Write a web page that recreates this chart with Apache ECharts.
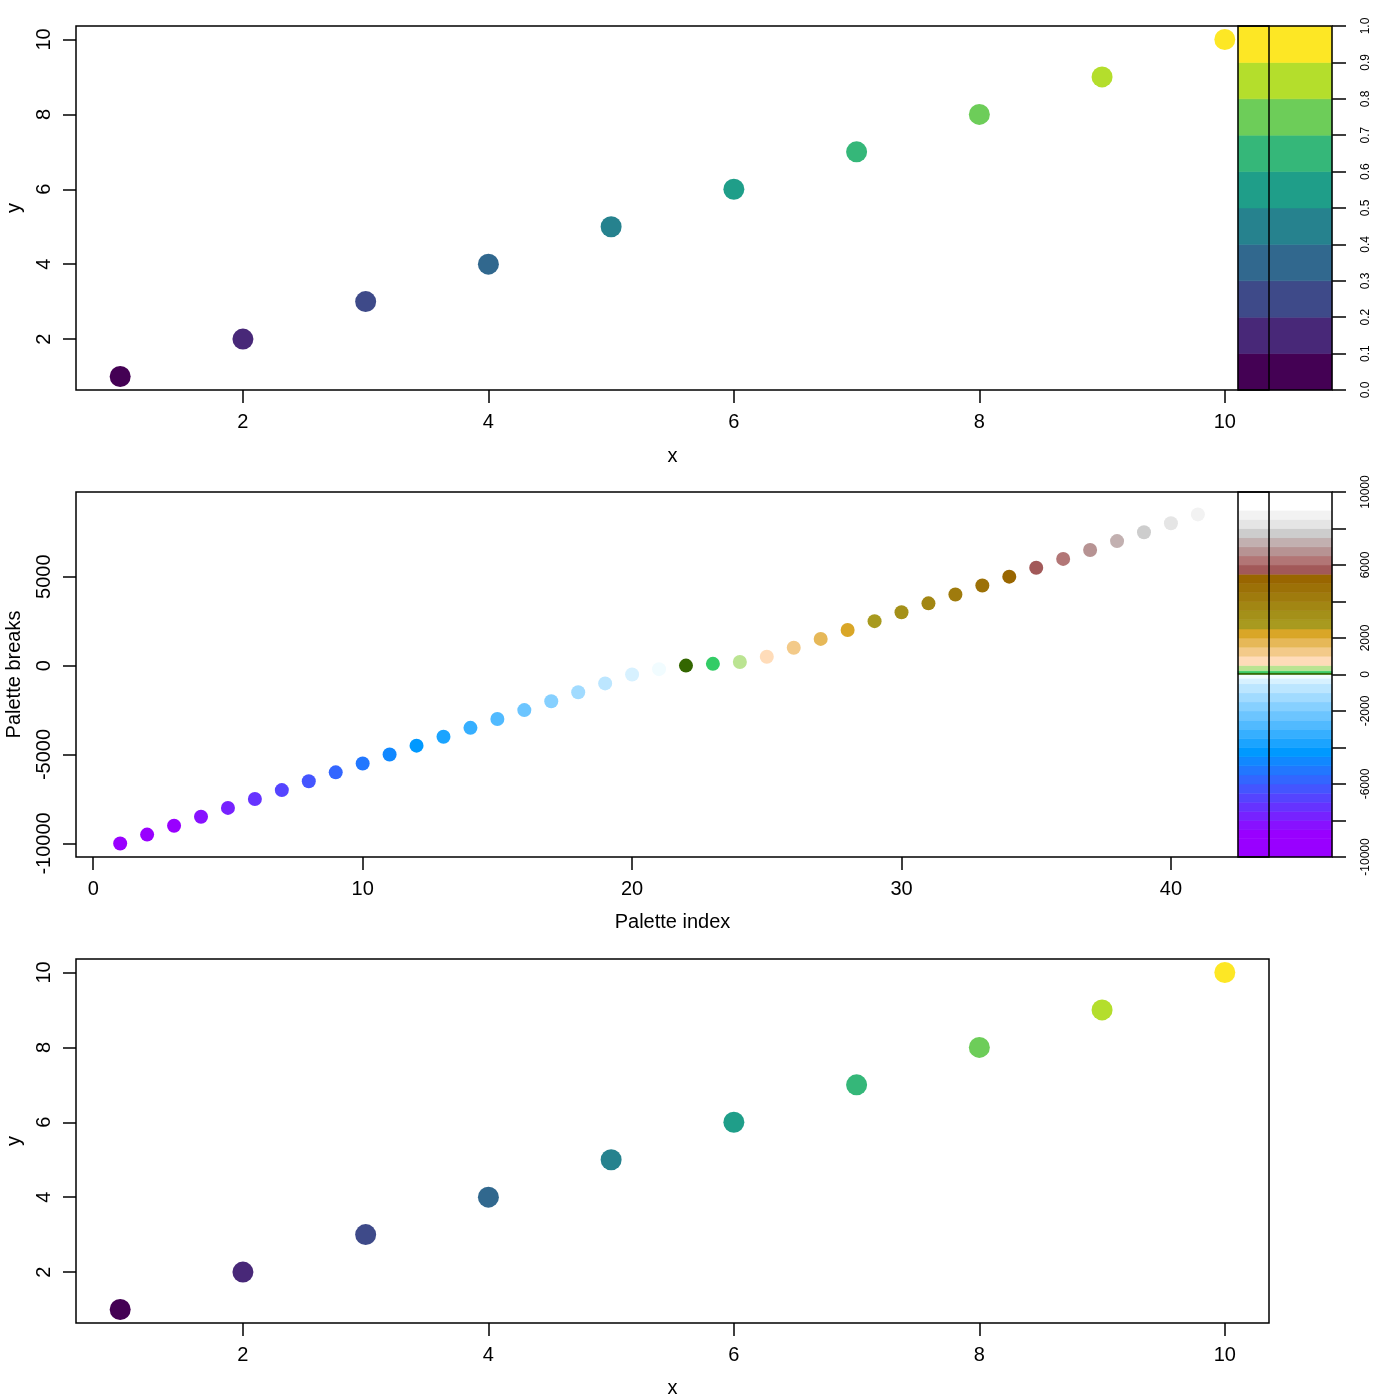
<!DOCTYPE html>
<html>
<head>
<meta charset="utf-8">
<script src="https://cdn.jsdelivr.net/npm/echarts@6/dist/echarts.min.js"></script>
<style>html,body{margin:0;padding:0;background:#fff;}#c{width:1400px;height:1400px;}</style>
</head>
<body>
<div id="c"></div>
<script>
// ---- data ----
const xVals = [1, 2, 3, 4, 5, 6, 7, 8, 9, 10];
const yVals = [1, 2, 3, 4, 5, 6, 7, 8, 9, 10];
const viridisColors = ['#440154', '#482878', '#3E4A89', '#31688E', '#26828E',
                       '#1F9E89', '#35B779', '#6DCD59', '#B4DE2C', '#FDE725'];
const topBreaks = [0.0, 0.1, 0.2, 0.3, 0.4, 0.5, 0.6, 0.7, 0.8, 0.9, 1.0];
const xTicks = [2, 4, 6, 8, 10];
const yTicks = [2, 4, 6, 8, 10];

const paletteIndex = [1, 2, 3, 4, 5, 6, 7, 8, 9, 10, 11, 12, 13, 14, 15, 16, 17, 18, 19, 20, 21,
                      22, 23, 24, 25, 26, 27, 28, 29, 30, 31, 32, 33, 34, 35, 36, 37, 38, 39, 40, 41, 42];
const paletteBreaks = [-10000, -9500, -9000, -8500, -8000, -7500, -7000, -6500, -6000, -5500,
                       -5000, -4500, -4000, -3500, -3000, -2500, -2000, -1500, -1000, -500,
                       -200, 0, 100, 200, 500, 1000, 1500, 2000, 2500, 3000, 3500, 4000,
                       4500, 5000, 5500, 6000, 6500, 7000, 7500, 8000, 8500, 9000];
const paletteColors = ['#9900FF', '#9900FF', '#9900FF', '#8811FF', '#7722FF', '#6633FF', '#5544FF',
                       '#4455FF', '#3366FF', '#2277FF', '#1188FF', '#0099FF', '#1BA4FF', '#36AFFF',
                       '#51BAFF', '#6CC5FF', '#86D0FF', '#A1DBFF', '#BCE6FF', '#D7F1FF', '#F1FCFF',
                       '#336600', '#33CC66', '#BBE492', '#FFDCB9', '#F3CA89', '#E6B858', '#D9A627',
                       '#A89A1F', '#A49019', '#A28613', '#9F7B0D', '#9C7107', '#996600', '#A25959',
                       '#B27676', '#B79393', '#C2B0B0', '#CDCDCD', '#E5E5E5', '#F2F2F2', '#FFFFFF'];
const paletteTop = 10000;
const paletteXTicks = [0, 10, 20, 30, 40];
const paletteYTicks = [-10000, -5000, 0, 5000];
const paletteBarHidden = [8000, 4000, -4000, -8000];

// ---- build ----
const FONT = 'Liberation Sans, Arial, Helvetica, sans-serif';
const FS = 20;

function pts(xs, ys, cols) {
  return xs.map((x, i) => ({ value: [x, ys[i]], itemStyle: { color: cols[i], opacity: 1 } }));
}
function bands(breaks, cols, top) {
  const out = [];
  for (let i = 0; i < cols.length; i++) {
    const lo = breaks[i];
    const hi = i + 1 < breaks.length ? breaks[i + 1] : top;
    out.push({ value: [lo, hi], itemStyle: { color: cols[i] } });
  }
  return out;
}
function bandRender(params, api) {
  const p0 = api.coord([0, api.value(0)]);
  const p1 = api.coord([1, api.value(1)]);
  const c = api.visual('color');
  return {
    type: 'rect',
    shape: { x: p0[0], y: p1[1], width: p1[0] - p0[0], height: p0[1] - p1[1] },
    style: { fill: c, stroke: c, lineWidth: 0.6 }
  };
}

const tickStyle = { show: true, inside: false, length: 13, lineStyle: { color: '#000', width: 1.5 } };
const noLine = { show: false, onZero: false };

function mainX(gridIndex, min, max, ticks, name, gap) {
  return {
    type: 'value', gridIndex, min, max, name, nameLocation: 'middle', nameGap: gap,
    nameTextStyle: { fontFamily: FONT, fontSize: FS, color: '#000' },
    axisLine: noLine, splitLine: { show: false },
    axisTick: Object.assign({ customValues: ticks }, tickStyle),
    axisLabel: { customValues: ticks, fontFamily: FONT, fontSize: FS, color: '#000', margin: 22,
                 formatter: v => String(v) }
  };
}
function mainY(gridIndex, min, max, ticks, name, gap) {
  return {
    type: 'value', gridIndex, min, max, name, nameLocation: 'middle', nameGap: gap, nameRotate: 90,
    nameTextStyle: { fontFamily: FONT, fontSize: FS, color: '#000' },
    axisLine: noLine, splitLine: { show: false },
    axisTick: Object.assign({ customValues: ticks }, tickStyle),
    axisLabel: { customValues: ticks, rotate: 90, fontFamily: FONT, fontSize: FS, color: '#000', margin: 22,
                 formatter: v => String(v) }
  };
}
function barX(gridIndex) {
  return { type: 'value', gridIndex, min: 0, max: 1, show: false };
}
function barY(gridIndex, min, max, interval, fmt) {
  return {
    type: 'value', gridIndex, min, max, interval, position: 'right',
    axisLine: noLine, splitLine: { show: false },
    axisTick: { show: true, inside: false, length: 14, lineStyle: { color: '#000', width: 1.5 } },
    axisLabel: { rotate: 90, fontFamily: FONT, fontSize: 12, color: '#000', margin: 28,
                 showMinLabel: true, showMaxLabel: true, hideOverlap: false, formatter: fmt }
  };
}

const border = { show: true, borderColor: '#000', borderWidth: 1.5, backgroundColor: 'transparent', z: 5,
                 containLabel: false, outerBoundsMode: 'none' };

const option = {
  animation: false,
  backgroundColor: '#fff',
  grid: [
    Object.assign({ left: 76, top: 26, width: 1193, height: 364 }, border),
    Object.assign({ left: 1238, top: 26, width: 94, height: 364 }, border),
    Object.assign({ left: 76, top: 492, width: 1193, height: 365 }, border),
    Object.assign({ left: 1238, top: 492, width: 94, height: 365 }, border),
    Object.assign({ left: 76, top: 959, width: 1193, height: 364 }, border)
  ],
  xAxis: [
    mainX(0, 0.64, 10.36, xTicks, 'x', 56),
    barX(1),
    mainX(2, -0.64, 43.64, paletteXTicks, 'Palette index', 55),
    barX(3),
    mainX(4, 0.64, 10.36, xTicks, 'x', 55)
  ],
  yAxis: [
    mainY(0, 0.64, 10.36, yTicks, 'y', 52),
    barY(1, 0, 1, 0.1, v => v.toFixed(1)),
    mainY(2, -10760, 9760, paletteYTicks, 'Palette breaks', 52),
    barY(3, -10000, 10000, 2000, v => (paletteBarHidden.indexOf(v) >= 0 ? '' : String(v))),
    mainY(4, 0.64, 10.36, yTicks, 'y', 52)
  ],
  series: [
    { type: 'scatter', xAxisIndex: 0, yAxisIndex: 0, symbolSize: 21, itemStyle: { opacity: 1 },
      data: pts(xVals, yVals, viridisColors) },
    { type: 'custom', xAxisIndex: 1, yAxisIndex: 1, renderItem: bandRender,
      encode: { y: [0, 1] }, data: bands(topBreaks, viridisColors, 1) },
    { type: 'scatter', xAxisIndex: 2, yAxisIndex: 2, symbolSize: 14, itemStyle: { opacity: 1 },
      data: pts(paletteIndex, paletteBreaks, paletteColors) },
    { type: 'custom', xAxisIndex: 3, yAxisIndex: 3, renderItem: bandRender,
      encode: { y: [0, 1] }, data: bands(paletteBreaks, paletteColors, paletteTop) },
    { type: 'scatter', xAxisIndex: 4, yAxisIndex: 4, symbolSize: 21, itemStyle: { opacity: 1 },
      data: pts(xVals, yVals, viridisColors) }
  ]
};

const chart = echarts.init(document.getElementById('c'), null, { renderer: 'canvas' });
chart.setOption(option);
</script>
</body>
</html>
